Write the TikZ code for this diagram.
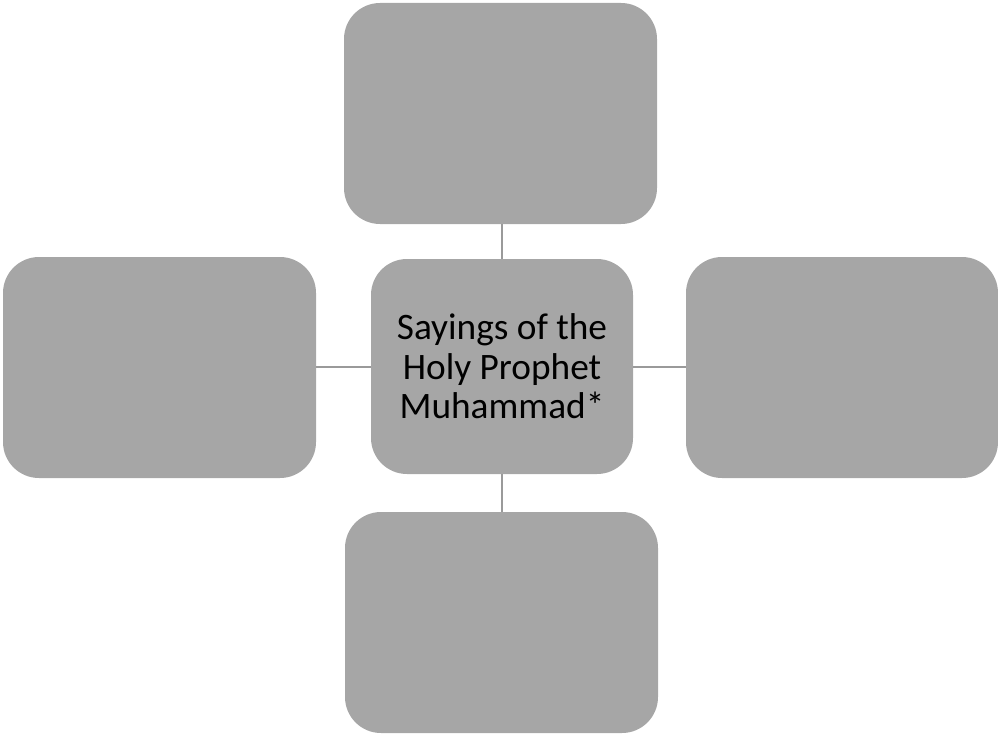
\documentclass[tikz,border=0pt]{standalone}
\usepackage{fontspec}
\setmainfont{Carlito}
\begin{document}
\begin{tikzpicture}[x=0.75pt,y=-0.75pt,
  boxst/.style={fill=boxgray,draw=none,rounded corners=27pt,inner sep=0pt,outer sep=0pt},
  link/.style={draw=linegray,line width=1.5pt}]
\definecolor{boxgray}{HTML}{A6A6A6}
\definecolor{linegray}{HTML}{9A9A9A}
\useasboundingbox (0,0) rectangle (998,735);
\node[boxst,minimum width=313*0.75pt,minimum height=221*0.75pt] (top) at (500.5,113.5) {};
\node[boxst,minimum width=313*0.75pt,minimum height=221*0.75pt] (left) at (159.5,367.5) {};
\node[boxst,minimum width=312*0.75pt,minimum height=221*0.75pt] (right) at (842,367.5) {};
\node[boxst,minimum width=313*0.75pt,minimum height=221*0.75pt] (bottom) at (501.5,622.5) {};
\node[boxst,minimum width=262*0.75pt,minimum height=215*0.75pt,align=center,font=\fontsize{28}{29.5}\selectfont,text=black] (center) at (502,366.5) {Sayings of the\\Holy Prophet\\Muhammad*};
\draw[link] (center.north |- top.south) -- (center.north);
\draw[link] (center.south) -- (center.south |- bottom.north);
\draw[link] (left.east |- center.west) -- (center.west);
\draw[link] (center.east) -- (right.west |- center.east);
\end{tikzpicture}
\end{document}
